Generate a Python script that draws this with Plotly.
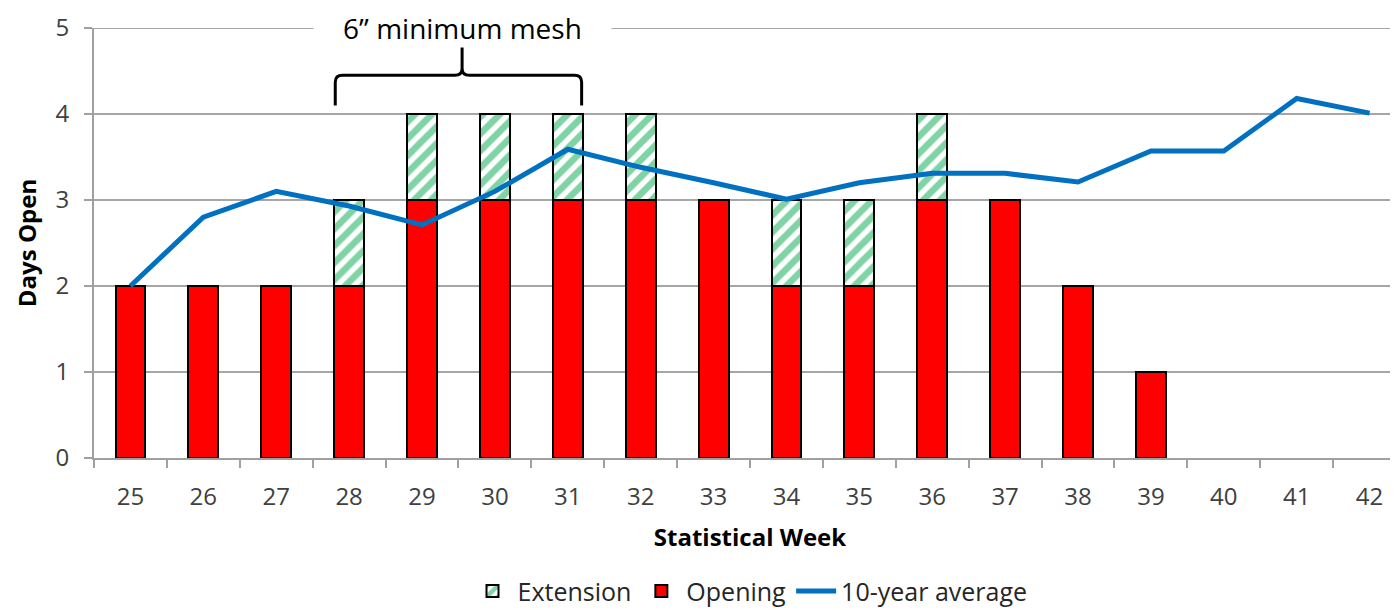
import plotly.graph_objects as go

weeks = list(range(25, 43))
opening = [2, 2, 2, 2, 3, 3, 3, 3, 3, 2, 2, 3, 3, 2, 1, 0, 0, 0]
extension = [0, 0, 0, 1, 1, 1, 1, 1, 0, 1, 1, 1, 0, 0, 0, 0, 0, 0]
avg10 = [2.0, 2.8, 3.1, 2.93, 2.71, 3.1, 3.59, 3.38, 3.2, 3.01, 3.2, 3.31, 3.31, 3.21, 3.57, 3.57, 4.18, 4.01]

FONT = "Open Sans"
fig = go.Figure()
fig.add_trace(go.Bar(
    x=weeks, y=[v if v > 0 else None for v in opening], name="Opening", width=0.41,
    marker=dict(color="#FF0000", line=dict(color="black", width=2)),
    legendrank=2,
))
fig.add_trace(go.Bar(
    x=weeks, y=[e if e > 0 else None for e in extension], name="Extension", width=0.41,
    marker=dict(color="white", line=dict(color="black", width=2),
                pattern=dict(shape="/", fgcolor="#00A84A", bgcolor="white", size=12, solidity=0.55)),
    legendrank=1,
))
fig.add_trace(go.Scatter(
    x=weeks, y=avg10, name="10-year average", mode="lines",
    line=dict(color="#0070C0", width=5), legendrank=3,
))

# top gridline (plotly omits gridlines on the plot edge)
fig.add_shape(type="line", xref="paper", yref="y", x0=0, x1=1, y0=5, y1=5,
              line=dict(color="#A6A6A6", width=2), layer="below")

# brace over weeks 28-31
x0, x1, xm = 27.81, 31.19, 29.55
yb, yh, yt = 4.1, 4.45, 4.8
r = 0.1
path = (f"M {x0},{yb} L {x0},{yh-0.08} Q {x0},{yh} {x0+r},{yh} "
        f"L {xm-r},{yh} Q {xm},{yh} {xm},{yh+0.08} L {xm},{yt} "
        f"M {xm},{yh+0.08} Q {xm},{yh} {xm+r},{yh} L {x1-r},{yh} "
        f"Q {x1},{yh} {x1},{yh-0.08} L {x1},{yb}")
fig.add_shape(type="path", path=path, xref="x", yref="y",
              line=dict(color="black", width=3))

fig.add_annotation(x=xm, y=1.0, xref="x", yref="paper",
                   text="\u00a0\u00a0\u00a0\u00a06\u201d minimum mesh\u00a0\u00a0\u00a0\u00a0",
                   showarrow=False, font=dict(family=FONT, size=28, color="black"),
                   bgcolor="white", borderpad=0, yanchor="top", yshift=20)

# the page body has an 8px default margin; margins compensate for it
fig.update_layout(
    width=1398, height=610,
    margin=dict(l=86, r=0, t=20, b=160),
    barmode="stack", bargap=0.5,
    plot_bgcolor="white", paper_bgcolor="white",
    font=dict(family=FONT, size=24, color="#404040"),
    showlegend=True,
    legend=dict(orientation="h", x=0.5, xanchor="center", y=-0.31, yanchor="middle",
                font=dict(family=FONT, size=25, color="#262626"),
                itemwidth=40, traceorder="normal"),
)
fig.update_xaxes(
    range=[24.5, 42.5], tickvals=weeks, ticktext=[str(w) for w in weeks],
    showgrid=False, showline=True, linecolor="#A0A0A0", linewidth=2,
    ticks="", ticklabelstandoff=16, automargin=False,
    tickfont=dict(family=FONT, size=24, color="#404040"),
    minor=dict(tickvals=[w - 0.5 for w in weeks] + [42.5], ticks="outside", ticklen=8,
               tickcolor="#A0A0A0", tickwidth=2, showgrid=False),
    title=dict(text="<b>Statistical Week</b>", font=dict(family=FONT, size=24, color="black"), standoff=18),
    zeroline=False,
)
fig.update_yaxes(
    range=[0, 5], dtick=1, showgrid=True, gridcolor="#A6A6A6", gridwidth=2,
    showline=True, linecolor="#A0A0A0", linewidth=2, automargin=False,
    ticks="outside", ticklen=8, tickcolor="#A0A0A0", tickwidth=2, ticklabelstandoff=10,
    tickfont=dict(family=FONT, size=24, color="#404040"),
    title=dict(text="<b>Days Open</b>", font=dict(family=FONT, size=24, color="black"), standoff=12),
    zeroline=False,
)
fig.write_html("out.html", config={"displayModeBar": False})
